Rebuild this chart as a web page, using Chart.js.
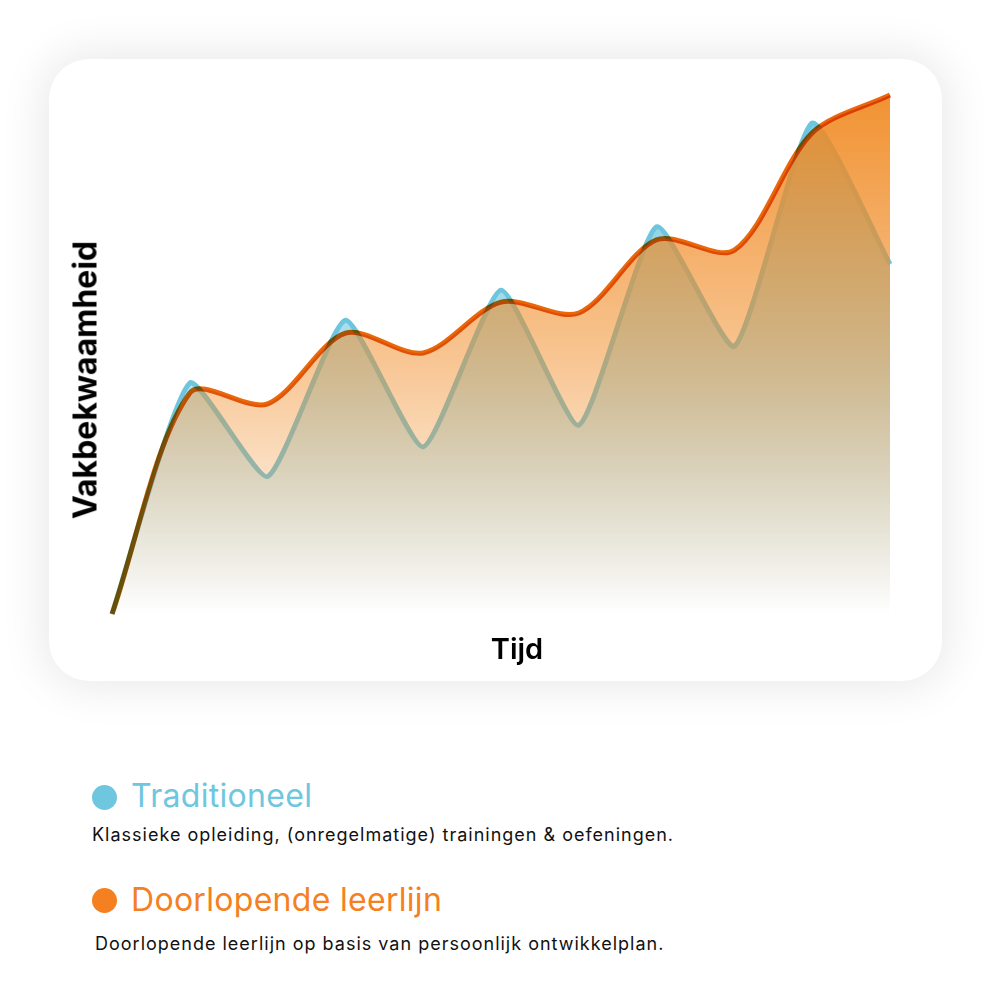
<!DOCTYPE html>
<html>
<head>
<meta charset="utf-8">
<script src="https://cdn.jsdelivr.net/npm/chart.js@4"></script>
<style>
    html, body { margin: 0; padding: 0; background: #fff; }
    body { width: 1000px; height: 1000px; position: relative; overflow: hidden; font-family: Inter, "Open Sans", sans-serif; }
    .kaart {
        position: absolute; left: 49px; top: 59px; width: 893px; height: 622px;
        background: #fff; border-radius: 40px;
        box-shadow: 0 0 45px 6px rgba(0, 0, 0, 0.09);
    }
    #grafiek { position: absolute; left: 0; top: 0; }
    .ytitel {
        position: absolute; left: 85px; top: 380px;
        transform: translate(-50%, -50%) rotate(-90deg);
        font-size: 32px; font-weight: 700; color: #000; white-space: nowrap;
    }
    .xtitel {
        position: absolute; left: 517px; top: 648px;
        transform: translate(-50%, -50%);
        font-size: 29px; font-weight: 600; color: #000;
    }
    .stip { position: absolute; width: 25px; height: 25px; border-radius: 50%; }
    .kop { position: absolute; left: 131px; font-size: 32px; letter-spacing: 0.3px; font-weight: 400; transform: translateY(-50%); white-space: nowrap; }
    .uitleg { position: absolute; font-size: 18px; letter-spacing: 1px; color: #111; transform: translateY(-50%); white-space: nowrap; }
</style>
</head>
<body>
<div class="kaart"></div>
<canvas id="grafiek" width="1000" height="700"></canvas>
<div class="ytitel">Vakbekwaamheid</div>
<div class="xtitel">Tijd</div>

<div class="stip" style="left:92px; top:785px; background:#6fc6df;"></div>
<div class="kop" style="top:795px; color:#6fc6df;">Traditioneel</div>
<div class="uitleg" style="left:92px; top:834px;">Klassieke opleiding, (onregelmatige) trainingen &amp; oefeningen.</div>

<div class="stip" style="left:92px; top:888px; background:#f5801f;"></div>
<div class="kop" style="top:899px; color:#f5801f;">Doorlopende leerlijn</div>
<div class="uitleg" style="left:95px; top:943px;">Doorlopende leerlijn op basis van persoonlijk ontwikkelplan.</div>

<script>
// tijdstappen en vakbekwaamheid (0-100)
var tijd = ['0', '1', '2', '3', '4', '5', '6', '7', '8', '9', '10'];
var traditioneel = [0, 44.5, 26.5, 56.6, 32.2, 62.4, 36.4, 74.6, 51.6, 94.6, 67.4];
var doorlopend = [0, 42.6, 40.5, 54.1, 50.3, 60.1, 58.0, 72.1, 70.1, 92.7, 100];

function verloop(ctx, area, kleur, stops) {
    var g = ctx.createLinearGradient(0, area.top, 0, area.bottom);
    for (var i = 0; i < stops.length; i++) {
        g.addColorStop(stops[i][0], 'rgba(' + kleur + ',' + stops[i][1] + ')');
    }
    return g;
}

// lijn van de doorlopende leerlijn wordt vermenigvuldigd (multiply) over de rest
var mengPlugin = {
    id: 'meng',
    beforeDatasetDraw: function(chart, args) {
        if (args.index === 1) chart.ctx.globalCompositeOperation = 'multiply';
    },
    afterDatasetDraw: function(chart, args) {
        chart.ctx.globalCompositeOperation = 'source-over';
    }
};

new Chart(document.getElementById('grafiek'), {
    type: 'line',
    data: {
        labels: tijd,
        datasets: [{
            label: 'Traditioneel',
            data: traditioneel,
            borderColor: 'rgba(110,198,222,1)',
            borderWidth: 5,
            tension: 0.17,
            pointRadius: 0,
            fill: 'origin',
            order: 2,
            clip: false,
            backgroundColor: function(c) {
                var a = c.chart.chartArea;
                if (!a) return 'transparent';
                return verloop(c.chart.ctx, a, '110,198,222', [[0, 0.95], [0.55, 0.5], [1, 0]]);
            }
        }, {
            label: 'Doorlopende leerlijn',
            data: doorlopend,
            borderColor: 'rgba(232,104,10,1)',
            borderWidth: 5,
            tension: 0.3,
            pointRadius: 0,
            fill: 'origin',
            order: 1,
            clip: false,
            backgroundColor: function(c) {
                var a = c.chart.chartArea;
                if (!a) return 'transparent';
                return verloop(c.chart.ctx, a, '240,138,35', [[0, 0.93], [0.5, 0.5], [1, 0]]);
            }
        }]
    },
    options: {
        responsive: false,
        animation: false,
        layout: { padding: { left: 112, right: 110, top: 95, bottom: 86 } },
        scales: {
            x: { display: false },
            y: { display: false, min: 0, max: 100 }
        },
        plugins: {
            legend: { display: false },
            tooltip: { enabled: false }
        }
    },
    plugins: [mengPlugin]
});
</script>
</body>
</html>
